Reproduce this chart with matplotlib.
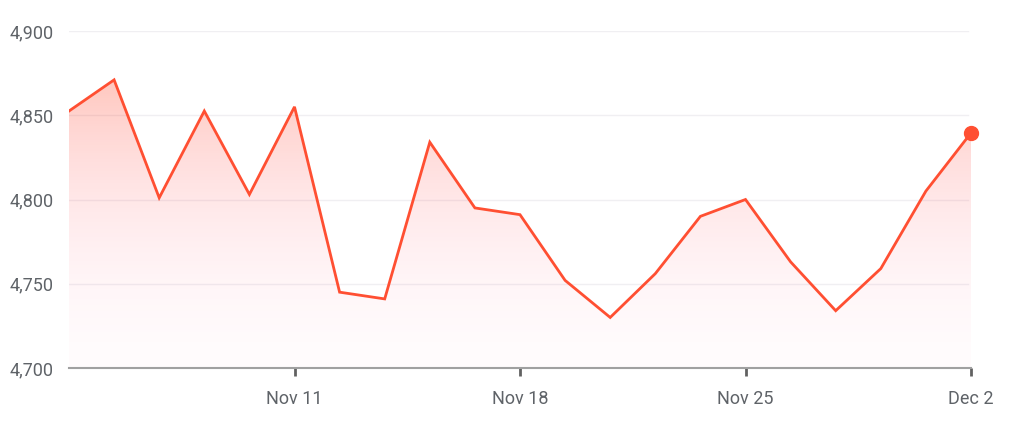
import matplotlib
matplotlib.use("Agg")
import matplotlib.pyplot as plt
import numpy as np
from matplotlib.patches import PathPatch
from matplotlib.path import Path

dates = ["Nov 4", "Nov 5", "Nov 6", "Nov 7", "Nov 8",
         "Nov 11", "Nov 12", "Nov 13", "Nov 14", "Nov 15",
         "Nov 18", "Nov 19", "Nov 20", "Nov 21", "Nov 22",
         "Nov 25", "Nov 26", "Nov 27", "Nov 28", "Nov 29",
         "Dec 2"]
values = [4852.5, 4871, 4801, 4852.5, 4803,
          4855, 4745, 4741, 4834, 4795,
          4791, 4752, 4730, 4756, 4790,
          4800, 4763, 4734, 4759, 4805,
          4839.5]
yticks = [4700, 4750, 4800, 4850, 4900]
ytick_labels = ["4,700", "4,750", "4,800", "4,850", "4,900"]
xtick_labels = ["Nov 11", "Nov 18", "Nov 25", "Dec 2"]

plt.rcParams['font.family'] = ['Roboto', 'DejaVu Sans']

W, H = 1015, 426
fig = plt.figure(figsize=(W / 100, H / 100), dpi=100)
ax = fig.add_axes([69 / W, 1 - 368 / H, (971 - 69) / W, (368 - 31) / H])

x = np.arange(len(values))
y = np.array(values)
line_color = "#ff4f32"

ax.set_xlim(0, len(values) - 1)
ax.set_ylim(yticks[0], yticks[-1])

# gradient fill
verts = [(x[0], yticks[0])] + list(zip(x, y)) + [(x[-1], yticks[0]), (x[0], yticks[0])]
codes = [Path.MOVETO] + [Path.LINETO] * (len(verts) - 2) + [Path.CLOSEPOLY]
patch = PathPatch(Path(verts, codes), facecolor="none", edgecolor="none")
ax.add_patch(patch)
n = 256
t = np.linspace(1, 0, n)  # 1 at top, 0 at bottom
grad = np.zeros((n, 1, 4))
top_rgb = np.array([1.0, 0.33, 0.22])
bot_rgb = np.array([1.0, 0.45, 0.65])
grad[:, 0, :3] = bot_rgb + (top_rgb - bot_rgb) * t[:, None]
grad[:, 0, 3] = 0.025 + 0.30 * t ** 1.6
ymax_v = max(values)
im = ax.imshow(grad, extent=[x[0], x[-1], yticks[0], ymax_v], origin="upper",
               aspect="auto", zorder=1, interpolation="bilinear")
im.set_clip_path(patch)

ax.plot(x, y, color=line_color, lw=2.0, zorder=3, solid_joinstyle="miter")
ax.plot([x[-1]], [y[-1]], "o", color=line_color, ms=10, zorder=4, clip_on=False)

ax.set_yticks(yticks)
ax.set_yticklabels(ytick_labels)
xt_pos = [dates.index(lbl) for lbl in xtick_labels]
ax.set_xticks(xt_pos)
ax.set_xticklabels(xtick_labels)

for yt in yticks[1:]:
    ax.axhline(yt, color="#f0eff2", lw=1, zorder=0.5, xmax=(968 - 69) / (971 - 69))

for s in ["top", "right", "left"]:
    ax.spines[s].set_visible(False)
ax.spines["bottom"].set_color("#a0a0a0")
ax.spines["bottom"].set_linewidth(1.5)
ax.spines["bottom"].set_zorder(5)

ax.tick_params(axis="y", length=0, pad=11, labelsize=13, labelcolor="#5f6368")
ax.tick_params(axis="x", length=6, width=2, color="#616161", pad=10,
               labelsize=13, labelcolor="#5f6368")

fig.savefig("out.png", dpi=100)
